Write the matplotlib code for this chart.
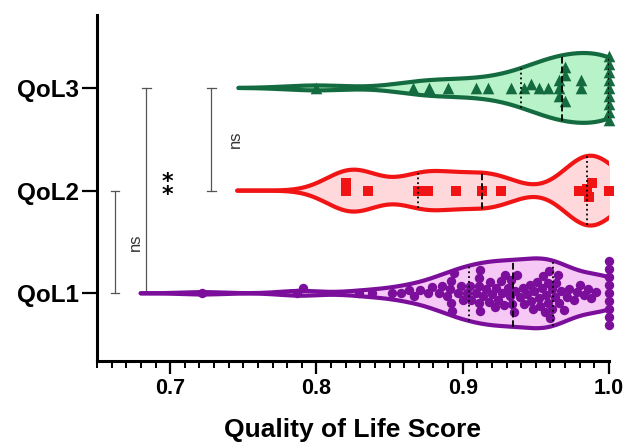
import numpy as np
import matplotlib.pyplot as plt
from matplotlib.ticker import MultipleLocator, FormatStrFormatter

plt.rcParams['font.family'] = ['Liberation Sans', 'DejaVu Sans']

groups = ['QoL1', 'QoL2', 'QoL3']

qol1 = [0.722, 0.787, 0.791, 0.829, 0.838,
        0.852, 0.858, 0.863, 0.867, 0.871,
        0.876, 0.879, 0.884, 0.886, 0.889,
        0.891, 0.892, 0.892, 0.893, 0.894, 0.897, 0.899, 0.900, 0.903, 0.905,
        0.906, 0.909, 0.911, 0.911, 0.911, 0.912, 0.912, 0.914, 0.916, 0.918,
        0.919, 0.920, 0.922, 0.923, 0.924, 0.926, 0.927, 0.928, 0.929, 0.931,
        0.932, 0.933, 0.934, 0.935, 0.936,
        0.937, 0.939, 0.941, 0.942, 0.944, 0.946, 0.947, 0.948, 0.949, 0.951,
        0.952, 0.953, 0.954, 0.955, 0.956, 0.957, 0.958, 0.958, 0.959, 0.960,
        0.961, 0.961, 0.963, 0.964, 0.965,
        0.966, 0.967, 0.969, 0.971, 0.973, 0.976, 0.978, 0.980, 0.983, 0.986,
        0.988, 0.991,
        1.0, 1.0, 1.0, 1.0, 1.0, 1.0, 1.0, 1.0, 1.0]

qol2 = [0.8205, 0.8205, 0.8355, 0.8695, 0.8763, 0.8952, 0.9135, 0.926,
        0.9795, 0.9848, 0.9863, 0.9887, 1.0]

qol3 = [0.800, 0.866, 0.877, 0.890, 0.909, 0.917, 0.933, 0.942, 0.9465,
        0.952, 0.958, 0.966, 0.966, 0.966, 0.970, 0.970, 0.970, 0.981, 0.981,
        1.0, 1.0, 1.0, 1.0, 1.0, 1.0, 1.0, 1.0, 1.0]

data = [qol1, qol2, qol3]
edge_colors = ['#7b0f9b', '#f01414', '#146b40']
fill_colors = ['#f5c8f5', '#ffd8dc', '#b8f2c8']
markers = ['o', 's', '^']
marker_s = [46, 42, 70]
swarm_px = [7.8, 8.0, 7.6]
bw_adjust = [0.7, 0.4, 0.8]
kde_cut = [3.0, 4.6, 2.6]

fig = plt.figure(figsize=(6.28, 4.48), dpi=100)
ax = fig.add_axes([0.1545, 0.194, 0.8152, 0.7725])
ax.set_xlim(0.65, 1.0)
ax.set_ylim(0.34, 3.71)


def kde_shape(vals, adjust, cut, n=500):
    v = np.asarray(vals, dtype=float)
    bw = adjust * v.std(ddof=1) * len(v) ** (-0.2)
    grid = np.linspace(v.min() - cut * bw, v.max() + cut * bw, n)
    dens = np.exp(-0.5 * ((grid[:, None] - v[None, :]) / bw) ** 2).sum(axis=1)
    return grid, dens / dens.max()


def swarm(vals, pos, diam):
    # simple beeswarm in pixel space
    vals = np.sort(np.asarray(vals, dtype=float))
    xs = ax.transData.transform(np.column_stack([vals, np.full(len(vals), pos)]))[:, 0]
    px_per_unit = ax.transData.transform((0, pos + 1))[1] - ax.transData.transform((0, pos))[1]
    placed = []
    for x in xs:
        k = 0
        while True:
            cands = [0.0] if k == 0 else [k * 0.5, -k * 0.5]
            ok = None
            for o in cands:
                if all((x - px) ** 2 + (o - po) ** 2 >= diam ** 2 for px, po in placed):
                    ok = o
                    break
            if ok is not None:
                placed.append((x, ok))
                break
            k += 1
    offs = np.array([p[1] for p in placed]) / px_per_unit
    return vals, pos + offs


half = 0.34
for i, vals in enumerate(data):
    pos = i + 1
    grid, d = kde_shape(vals, bw_adjust[i], kde_cut[i])
    ax.fill_between(grid, pos - half * d, pos + half * d, color=fill_colors[i], lw=0, zorder=1)
    sx, sy = swarm(vals, pos, swarm_px[i])
    ax.scatter(sx, sy, s=marker_s[i], marker=markers[i], color=edge_colors[i],
               linewidths=0, zorder=2, clip_on=False)
    ax.plot(grid, pos + half * d, color=edge_colors[i], lw=3, zorder=3, solid_capstyle='round')
    ax.plot(grid, pos - half * d, color=edge_colors[i], lw=3, zorder=3, solid_capstyle='round')
    for q, ls in zip(np.percentile(vals, [25, 50, 75]), [':', '--', ':']):
        h = half * np.interp(q, grid, d)
        ax.plot([q, q], [pos - h, pos + h], color='black', ls=ls, lw=1.3, zorder=4)

# significance brackets
brackets = [(1, 2, 0.6621, 0.6765, 'ns'), (1, 3, 0.6838, 0.698, '**'), (2, 3, 0.7282, 0.7448, 'ns')]
cap = 0.0028
for lo, hi, bx, tx, lab in brackets:
    ax.plot([bx, bx], [lo, hi], color='#555555', lw=0.9, zorder=0.5)
    ax.plot([bx - cap, bx + cap], [hi, hi], color='#555555', lw=0.9, zorder=0.5)
    ax.plot([bx - cap, bx + cap], [lo, lo], color='#555555', lw=0.9, zorder=0.5)
    if lab == '**':
        ax.text(tx, (lo + hi) / 2 + 0.02, '*\n*', ha='center', va='center',
                fontsize=16, fontweight='bold', color='black', linespacing=0.55,
                family=['DejaVu Sans'])
    else:
        ax.text(tx, (lo + hi) / 2, lab, rotation=90, ha='center', va='center',
                fontsize=12, color='#333333')

ax.spines['top'].set_visible(False)
ax.spines['right'].set_visible(False)
ax.spines['left'].set_linewidth(2.2)
ax.spines['bottom'].set_linewidth(2.2)

ax.set_xticks([0.7, 0.8, 0.9, 1.0])
ax.xaxis.set_major_formatter(FormatStrFormatter('%.1f'))
ax.xaxis.set_minor_locator(MultipleLocator(0.01))
ax.tick_params(axis='x', which='major', length=9.5, width=1.6, labelsize=15.5, pad=3)
ax.tick_params(axis='x', which='minor', length=5, width=1.4)
ax.set_yticks([1, 2, 3])
ax.set_yticklabels(groups)
ax.tick_params(axis='y', which='major', length=11, width=1.6, labelsize=17.5, pad=2)
for lbl in ax.get_xticklabels() + ax.get_yticklabels():
    lbl.set_fontweight('bold')

ax.set_xlabel('Quality of Life Score', fontsize=19, fontweight='bold', labelpad=13)

fig.savefig('out.png', dpi=100)
